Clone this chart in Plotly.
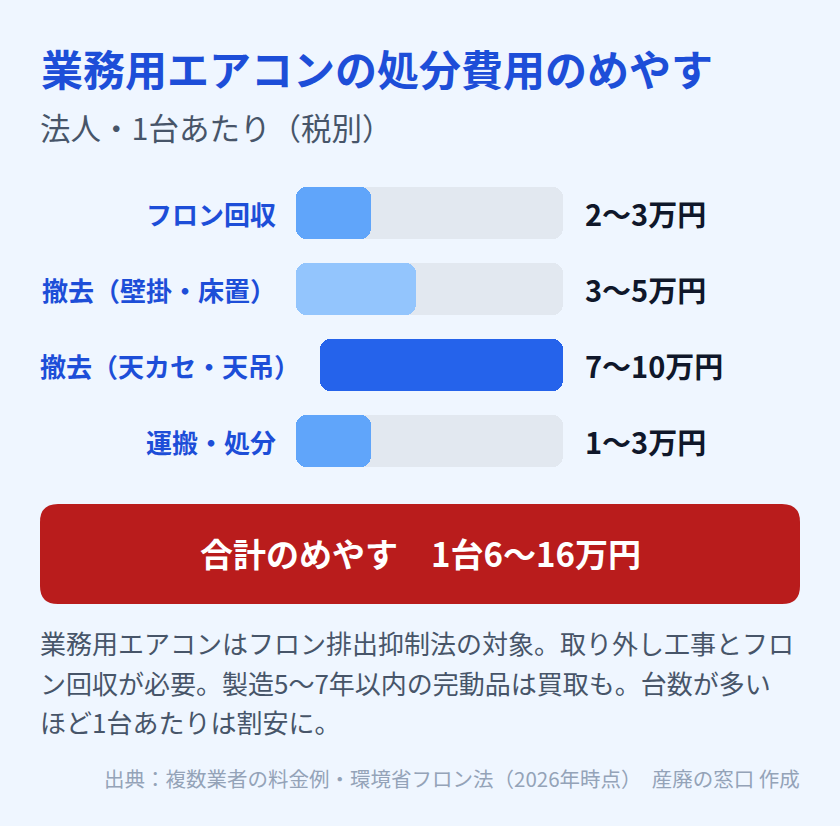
import plotly.graph_objects as go

W, H = 840, 826

# ---- data ----
title = "業務用エアコンの処分費用のめやす"
subtitle = "法人・1台あたり（税別）"
items = ["フロン回収", "撤去（壁掛・床置）", "撤去（天カセ・天吊）", "運搬・処分"]
cost_low = [2, 3, 7, 1]
cost_high = [3, 5, 10, 3]
fill_pct = [28, 45, 100, 28]
total_low, total_high = 6, 16
notes = [
    "業務用エアコンはフロン排出抑制法の対象。取り外し工事とフロ",
    "ン回収が必要。製造5〜7年以内の完動品は買取も。台数が多い",
    "ほど1台あたりは割安に。",
]
source = "出典：複数業者の料金例・環境省フロン法（2026年時点）　産廃の窓口 作成"

# ---- style ----
FONT = "Noto Sans CJK JP"
BG = "#EFF6FF"
BLUE = "#1D4ED8"
TRACK = "#E2E8F0"
fill_colors = ["#60A5FA", "#93C5FD", "#2563EB", "#60A5FA"]
RADIUS = 10
BAR_W = 0.684


def fx(px):
    return px / W


def fy(py):
    return 1 - py / H


# rows whose label is too long get pushed right (own axis)
wide = [len(s) > 9 for s in items]

fig = go.Figure()


def pill(length, row, color, xa):
    # explicit base -> plotly rounds all four corners
    fig.add_trace(go.Bar(
        x=[length], y=[row], base=[0], orientation="h",
        xaxis=xa, yaxis="y",
        marker=dict(color=color, cornerradius=RADIUS, line=dict(width=0)),
        width=BAR_W, hoverinfo="skip", showlegend=False,
    ))


for i in range(len(items)):
    xa = "x2" if wide[i] else "x"
    pill(100, i, TRACK, xa)
    pill(fill_pct[i], i, fill_colors[i], xa)

annotations = []
annotations.append(dict(text=title, x=fx(39), y=fy(68), xref="paper", yref="paper",
                        xanchor="left", yanchor="middle", showarrow=False,
                        font=dict(family=FONT, size=42, color=BLUE, weight=700)))
annotations.append(dict(text=subtitle, x=fx(38), y=fy(127), xref="paper", yref="paper",
                        xanchor="left", yanchor="middle", showarrow=False,
                        font=dict(family=FONT, size=30.5, color="#475569")))

for i, lab in enumerate(items):
    dom = "x2 domain" if wide[i] else "x domain"
    annotations.append(dict(text=lab, x=0, xref=dom, y=i, yref="y",
                            xanchor="right", yanchor="middle", xshift=-18, showarrow=False,
                            font=dict(family=FONT, size=26, color=BLUE, weight=700)))
    annotations.append(dict(text=f"{cost_low[i]}〜{cost_high[i]}万円", x=1, xref="x domain",
                            y=i, yref="y", xanchor="left", yanchor="middle", xshift=20,
                            showarrow=False,
                            font=dict(family=FONT, size=29, color="#0F172A", weight=700)))

annotations.append(dict(text=f"合計のめやす　1台{total_low}〜{total_high}万円",
                        x=fx(420), y=fy(553), xref="paper", yref="paper",
                        xanchor="center", yanchor="middle", showarrow=False,
                        font=dict(family=FONT, size=33, color="white", weight=700)))

note_y = [642, 682, 721]
for t, yy in zip(notes, note_y):
    annotations.append(dict(text=t, x=fx(38), y=fy(yy), xref="paper", yref="paper",
                            xanchor="left", yanchor="middle", showarrow=False,
                            font=dict(family=FONT, size=26, color="#475569")))

annotations.append(dict(text=source, x=fx(802), y=fy(778), xref="paper", yref="paper",
                        xanchor="right", yanchor="middle", showarrow=False,
                        font=dict(family=FONT, size=20.5, color="#94A3B8")))


def rounded_rect(x0, y0, x1, y1, r):
    X0, X1 = fx(x0), fx(x1)
    Y0, Y1 = fy(y0), fy(y1)
    rx, ry = r / W, r / H
    return (f"M {X0+rx},{Y0} L {X1-rx},{Y0} Q {X1},{Y0} {X1},{Y0-ry} "
            f"L {X1},{Y1+ry} Q {X1},{Y1} {X1-rx},{Y1} "
            f"L {X0+rx},{Y1} Q {X0},{Y1} {X0},{Y1+ry} "
            f"L {X0},{Y0-ry} Q {X0},{Y0} {X0+rx},{Y0} Z")


shapes = [dict(type="path", xref="paper", yref="paper",
               path=rounded_rect(40, 504, 800, 604, 18),
               fillcolor="#B91C1C", line=dict(width=0), layer="below")]

hidden = dict(visible=False, showgrid=False, zeroline=False, fixedrange=True)
fig.update_layout(
    width=W, height=H,
    margin=dict(l=0, r=0, t=0, b=0),
    paper_bgcolor=BG, plot_bgcolor="rgba(0,0,0,0)",
    barmode="overlay", bargap=0,
    xaxis=dict(domain=[fx(296), fx(563)], range=[0, 100], anchor="y", **hidden),
    xaxis2=dict(domain=[fx(320), fx(563)], range=[0, 100], anchor="y", **hidden),
    yaxis=dict(domain=[fy(479), fy(175)], range=[3.5, -0.5], anchor="x", **hidden),
    annotations=annotations,
    shapes=shapes,
    showlegend=False,
)

fig.write_html("out.html", config={"displayModeBar": False})
